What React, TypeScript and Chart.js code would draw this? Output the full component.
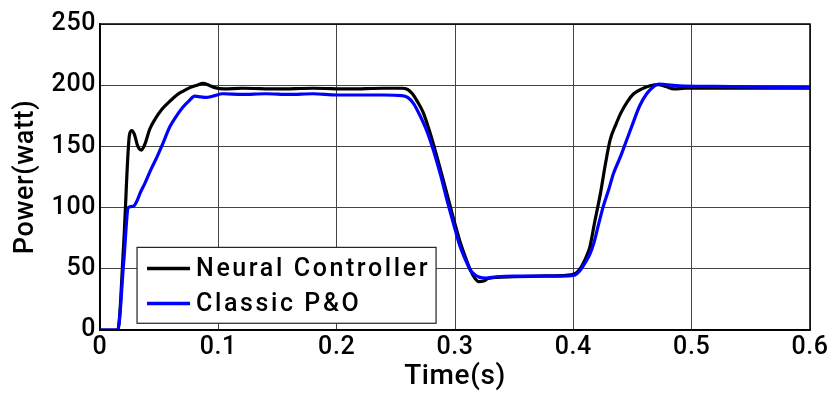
import React, { useEffect, useRef } from "react";
import { Chart, registerables } from "chart.js";

Chart.register(...registerables);

const xTicks = [0, 0.1, 0.2, 0.3, 0.4, 0.5, 0.6];
const yTicks = [0, 50, 100, 150, 200, 250];

const neuralLabel = "Neural Controller";
const neuralTime = [0, 0.015, 0.02, 0.025, 0.027, 0.029, 0.032, 0.035, 0.038, 0.042, 0.047, 0.052, 0.058, 0.065, 0.07, 0.076, 0.082, 0.087, 0.092, 0.097, 0.105, 0.12, 0.15, 0.18, 0.21, 0.24, 0.255, 0.26, 0.264, 0.268, 0.273, 0.278, 0.282, 0.288, 0.293, 0.299, 0.304, 0.309, 0.313, 0.317, 0.32, 0.324, 0.328, 0.335, 0.35, 0.37, 0.39, 0.398, 0.403, 0.407, 0.411, 0.414, 0.418, 0.423, 0.427, 0.431, 0.436, 0.44, 0.446, 0.451, 0.458, 0.465, 0.472, 0.478, 0.485, 0.495, 0.52, 0.55, 0.6];
const neuralPower = [0, 0, 70, 160, 163, 160, 150, 147, 152, 164, 173, 180, 186, 192, 195, 198, 200, 201.5, 200, 198, 197, 197.5, 197, 197.5, 197, 197.5, 197.5, 196.5, 193, 187, 178, 164, 151, 130, 112, 90, 73, 59, 49, 42, 39.5, 40, 42, 43, 43.5, 44, 44.5, 45, 47, 52, 60, 68, 88, 112, 135, 155, 168, 177, 187, 193, 197, 199.5, 200.5, 199, 197, 197.5, 197.5, 197.5, 197.5];

const classicLabel = "Classic P&O";
const classicTime = [0, 0.015, 0.02, 0.024, 0.028, 0.031, 0.034, 0.038, 0.043, 0.048, 0.053, 0.059, 0.064, 0.07, 0.075, 0.08, 0.085, 0.09, 0.095, 0.104, 0.12, 0.14, 0.16, 0.18, 0.2, 0.22, 0.24, 0.255, 0.26, 0.265, 0.27, 0.276, 0.282, 0.288, 0.293, 0.299, 0.304, 0.309, 0.313, 0.317, 0.321, 0.326, 0.335, 0.35, 0.37, 0.39, 0.4, 0.403, 0.406, 0.41, 0.414, 0.417, 0.421, 0.425, 0.43, 0.434, 0.44, 0.445, 0.45, 0.456, 0.462, 0.468, 0.472, 0.478, 0.49, 0.52, 0.56, 0.6];
const classicPower = [0, 0, 55, 100, 101, 105, 112, 120, 131, 141, 152, 166, 174, 182, 187, 191, 190.5, 190, 191, 193, 192.5, 193, 192.5, 193, 192, 192, 192, 191.5, 190, 185, 176, 163, 146, 126, 107, 86, 69, 57, 49, 45, 43, 42.5, 43.5, 44, 44, 44, 44.5, 46, 49, 55, 62, 70, 85, 100, 115, 128, 142, 155, 168, 183, 193, 199, 201, 200.5, 199.5, 199, 198.5, 198];

const FONT = "Roboto";

const legendPlugin = {
  id: "insideLegend",
  afterDatasetsDraw(chart: any) {
    const ctx = chart.ctx;
    const xs = chart.scales.x;
    const ys = chart.scales.y;
    const left = xs.getPixelForValue(0.0313);
    const right = xs.getPixelForValue(0.284);
    const top = ys.getPixelForValue(67.5);
    const bottom = ys.getPixelForValue(5.5);
    ctx.save();
    ctx.fillStyle = "#ffffff";
    ctx.fillRect(left, top, right - left, bottom - top);
    ctx.strokeStyle = "#222";
    ctx.lineWidth = 1.2;
    ctx.strokeRect(left, top, right - left, bottom - top);
    const items = chart.data.datasets.map((d: any) => ({ label: d.label, color: d.borderColor, legendIndex: d.legendIndex }));
    items.sort((a: any, b: any) => a.legendIndex - b.legendIndex);
    ctx.font = `500 25px ${FONT}`;
    (ctx as any).letterSpacing = "2.6px";
    ctx.textBaseline = "middle";
    ctx.textAlign = "left";
    const rows = [top + 21, top + 56];
    items.forEach((it: any, i: number) => {
      const cy = rows[i];
      ctx.strokeStyle = it.color;
      ctx.lineWidth = 3.5;
      ctx.beginPath();
      ctx.moveTo(left + 10, cy);
      ctx.lineTo(left + 53, cy);
      ctx.stroke();
      ctx.fillStyle = "#000";
      ctx.fillText(it.label, left + 59, cy + 1);
    });
    ctx.restore();
  },
};

export default function App() {
  const ref = useRef<HTMLCanvasElement | null>(null);
  useEffect(() => {
    document.body.style.margin = "0";
    const canvas = ref.current!;
    const chart = new Chart(canvas, {
      type: "line",
      data: {
        datasets: [
          {
            label: neuralLabel,
            data: neuralTime.map((t, i) => ({ x: t, y: neuralPower[i] })),
            borderColor: "#000000",
            borderWidth: 3.2,
            pointRadius: 0,
            cubicInterpolationMode: "monotone",
            order: 1,
            legendIndex: 0,
          } as any,
          {
            label: classicLabel,
            data: classicTime.map((t, i) => ({ x: t, y: classicPower[i] })),
            borderColor: "#0000ff",
            borderWidth: 3.2,
            pointRadius: 0,
            cubicInterpolationMode: "monotone",
            order: 0,
            legendIndex: 1,
          } as any,
        ],
      },
      options: {
        responsive: false,
        animation: false,
        devicePixelRatio: 1,
        layout: { padding: { top: 24, right: 24, left: 0, bottom: 0 } },
        plugins: { legend: { display: false }, tooltip: { enabled: false } },
        scales: {
          x: {
            type: "linear",
            min: 0,
            max: 0.6,
            afterBuildTicks: (s: any) => {
              s.ticks = xTicks.map((v) => ({ value: v }));
            },
            afterFit: (s: any) => {
              s.height = 70;
            },
            ticks: {
              font: { family: FONT, size: 25, weight: "500" },
              color: "#000",
              padding: 3,
              maxRotation: 0,
              autoSkip: false,
              callback: (v: any) => String(Number(v)),
            },
            grid: { color: "#444", lineWidth: 1, drawTicks: false },
            border: { color: "#000", width: 1.5 },
            title: {
              display: true,
              text: "Time(s)",
              font: { family: FONT, size: 28, weight: "500" },
              color: "#000",
              padding: { top: 0, bottom: 6 },
            },
          },
          y: {
            min: 0,
            max: 250,
            afterBuildTicks: (s: any) => {
              s.ticks = yTicks.map((v) => ({ value: v }));
            },
            afterFit: (s: any) => {
              s.width = 100;
            },
            ticks: {
              font: { family: FONT, size: 25, weight: "500" },
              color: "#000",
              padding: 4,
              autoSkip: false,
            },
            grid: { color: "#444", lineWidth: 1, drawTicks: false },
            border: { color: "#000", width: 1.5 },
            title: {
              display: true,
              text: "Power(watt)",
              font: { family: FONT, size: 27, weight: "500" },
              color: "#000",
              padding: { top: 10, bottom: 0 },
            },
          },
        },
      },
      plugins: [
        {
          id: "whiteBg",
          beforeDraw(c: any) {
            const ctx = c.ctx;
            ctx.save();
            ctx.fillStyle = "#fff";
            ctx.fillRect(0, 0, c.width, c.height);
            ctx.restore();
            (ctx as any).letterSpacing = "0.6px";
          },
        },
        {
          id: "frame",
          afterDraw(c: any) {
            const a = c.chartArea;
            const ctx = c.ctx;
            ctx.save();
            ctx.strokeStyle = "#000";
            ctx.lineWidth = 1.5;
            ctx.strokeRect(a.left, a.top, a.right - a.left, a.bottom - a.top);
            ctx.restore();
          },
        },
        legendPlugin,
      ],
    });
    return () => chart.destroy();
  }, []);
  return (
    <div style={{ position: "absolute", left: 0, top: 0, width: 834, height: 400 }}>
      <canvas ref={ref} width={834} height={400} />
    </div>
  );
}
